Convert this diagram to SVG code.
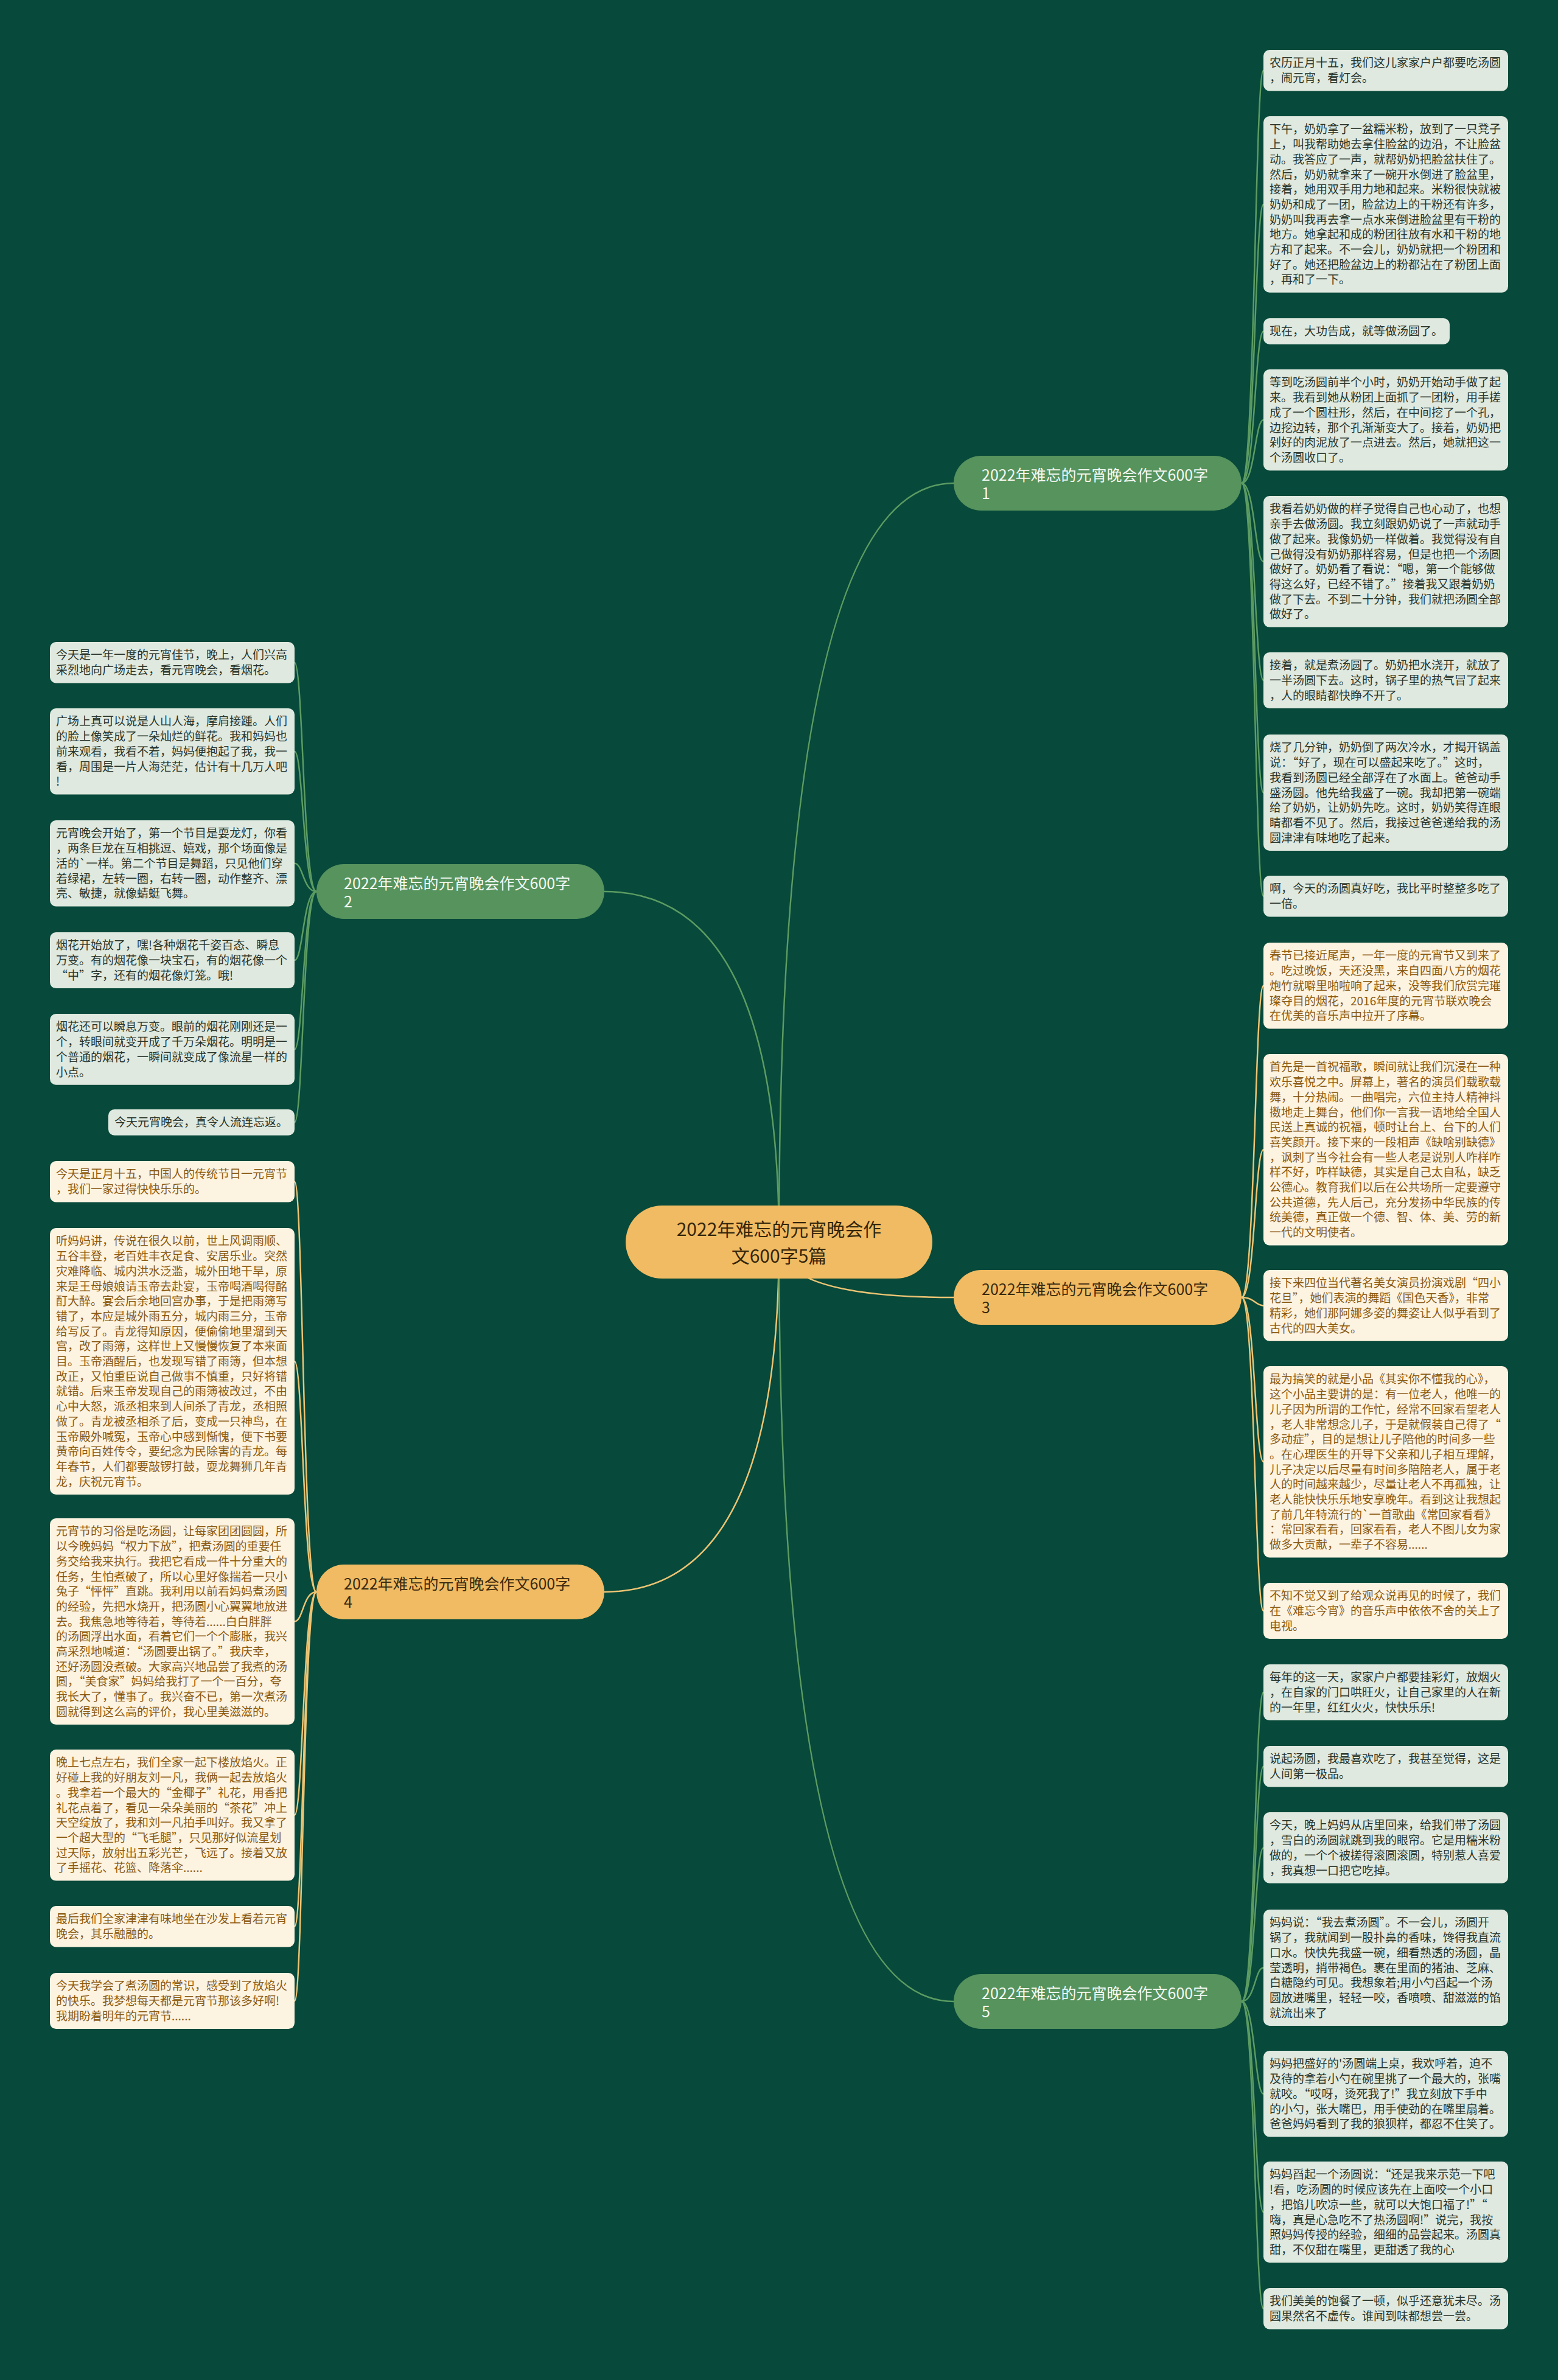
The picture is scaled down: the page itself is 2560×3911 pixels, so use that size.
<svg xmlns="http://www.w3.org/2000/svg" width="2560" height="3911" viewBox="0 0 2560 3911">
<style>
text{font-family:"Noto Sans CJK SC","Noto Sans",sans-serif}
.lt{font-size:19px}
.lg rect{fill:#dfe9df}
.lg text{fill:#2a352c}
.lo rect{fill:#fdf3e1}
.lo text{fill:#8a5a12}
.bg rect{fill:#56935d}
.bg text{fill:#f4f8f2;font-size:25px}
.bo rect{fill:#f0bb62}
.bo text{fill:#3a2a10;font-size:25px}
.cg{fill:none;stroke:#5c9c62;stroke-width:2.5}
.co{fill:none;stroke:#ecc474;stroke-width:2.5}
</style>
<rect width="2560" height="3911" fill="#07493a"/>
<g id="connectors">
<path class="cg" d="M1280,2041 Q1280,794 1567,794"/>
<path class="cg" d="M1280,2041 Q1280,1465 993,1465"/>
<path class="co" d="M1280,2041 Q1280,2132 1567,2132"/>
<path class="co" d="M1280,2041 Q1280,2616 993,2616"/>
<path class="cg" d="M1280,2041 Q1280,3289 1567,3289"/>
<path class="cg" d="M2040,794 C2062,794 2062,115.7 2076,115.7"/>
<path class="cg" d="M2040,794 C2062,794 2062,335.9 2076,335.9"/>
<path class="cg" d="M2040,794 C2062,794 2062,544.4 2076,544.4"/>
<path class="cg" d="M2040,794 C2062,794 2062,690.1 2076,690.1"/>
<path class="cg" d="M2040,794 C2062,794 2062,922.8 2076,922.8"/>
<path class="cg" d="M2040,794 C2062,794 2062,1118 2076,1118"/>
<path class="cg" d="M2040,794 C2062,794 2062,1302.5 2076,1302.5"/>
<path class="cg" d="M2040,794 C2062,794 2062,1472.7 2076,1472.7"/>
<path class="co" d="M2040,2132 C2062,2132 2062,1619.8 2076,1619.8"/>
<path class="co" d="M2040,2132 C2062,2132 2062,1889.2 2076,1889.2"/>
<path class="co" d="M2040,2132 C2062,2132 2062,2145.4 2076,2145.4"/>
<path class="co" d="M2040,2132 C2062,2132 2062,2402.2 2076,2402.2"/>
<path class="co" d="M2040,2132 C2062,2132 2062,2647 2076,2647"/>
<path class="cg" d="M2040,3289 C2062,3289 2062,2781 2076,2781"/>
<path class="cg" d="M2040,3289 C2062,3289 2062,2902.7 2076,2902.7"/>
<path class="cg" d="M2040,3289 C2062,3289 2062,3036.4 2076,3036.4"/>
<path class="cg" d="M2040,3289 C2062,3289 2062,3233.5 2076,3233.5"/>
<path class="cg" d="M2040,3289 C2062,3289 2062,3440.8 2076,3440.8"/>
<path class="cg" d="M2040,3289 C2062,3289 2062,3635.1 2076,3635.1"/>
<path class="cg" d="M2040,3289 C2062,3289 2062,3793.7 2076,3793.7"/>
<path class="cg" d="M520,1465 C498,1465 498,1088.7 484,1088.7"/>
<path class="cg" d="M520,1465 C498,1465 498,1234.8 484,1234.8"/>
<path class="cg" d="M520,1465 C498,1465 498,1418.8 484,1418.8"/>
<path class="cg" d="M520,1465 C498,1465 498,1578 484,1578"/>
<path class="cg" d="M520,1465 C498,1465 498,1724.4 484,1724.4"/>
<path class="cg" d="M520,1465 C498,1465 498,1844.4 484,1844.4"/>
<path class="co" d="M520,2616 C498,2616 498,1941.7 484,1941.7"/>
<path class="co" d="M520,2616 C498,2616 498,2237 484,2237"/>
<path class="co" d="M520,2616 C498,2616 498,2664.6 484,2664.6"/>
<path class="co" d="M520,2616 C498,2616 498,2982.8 484,2982.8"/>
<path class="co" d="M520,2616 C498,2616 498,3165.7 484,3165.7"/>
<path class="co" d="M520,2616 C498,2616 498,3288 484,3288"/>
</g>
<g id="center">
<rect x="1028" y="1981" width="504" height="120" rx="60" fill="#f0bb62"/>
<text x="1280" y="2031" text-anchor="middle" font-size="30" fill="#35260c">2022年难忘的元宵晚会作<tspan x="1280" dy="44">文600字5篇</tspan></text>
</g>
<g id="b1" class="bg"><rect x="1567" y="749" width="473" height="90" rx="45"/><text x="1613" y="790">2022年难忘的元宵晚会作文600字<tspan x="1613" dy="30">1</tspan></text></g>
<g id="b2" class="bg"><rect x="520" y="1420" width="473" height="90" rx="45"/><text x="565" y="1461">2022年难忘的元宵晚会作文600字<tspan x="565" dy="30">2</tspan></text></g>
<g id="b3" class="bo"><rect x="1567" y="2087" width="473" height="90" rx="45"/><text x="1613" y="2128">2022年难忘的元宵晚会作文600字<tspan x="1613" dy="30">3</tspan></text></g>
<g id="b4" class="bo"><rect x="520" y="2571" width="473" height="90" rx="45"/><text x="565" y="2612">2022年难忘的元宵晚会作文600字<tspan x="565" dy="30">4</tspan></text></g>
<g id="b5" class="bg"><rect x="1567" y="3244" width="473" height="90" rx="45"/><text x="1613" y="3285">2022年难忘的元宵晚会作文600字<tspan x="1613" dy="30">5</tspan></text></g>

<g id="r1-1" class="lg"><rect x="2076" y="82" width="402" height="67.4" rx="10"/><text class="lt" x="2086" y="110.4">农历正月十五，我们这儿家家户户都要吃汤圆<tspan x="2086" dy="24.7">，闹元宵，看灯会。</tspan></text></g>
<g id="r1-2" class="lg"><rect x="2076" y="191" width="402" height="289.7" rx="10"/><text class="lt" x="2086" y="219.4">下午，奶奶拿了一盆糯米粉，放到了一只凳子<tspan x="2086" dy="24.7">上，叫我帮助她去拿住脸盆的边沿，不让脸盆</tspan><tspan x="2086" dy="24.7">动。我答应了一声，就帮奶奶把脸盆扶住了。</tspan><tspan x="2086" dy="24.7">然后，奶奶就拿来了一碗开水倒进了脸盆里，</tspan><tspan x="2086" dy="24.7">接着，她用双手用力地和起来。米粉很快就被</tspan><tspan x="2086" dy="24.7">奶奶和成了一团，脸盆边上的干粉还有许多，</tspan><tspan x="2086" dy="24.7">奶奶叫我再去拿一点水来倒进脸盆里有干粉的</tspan><tspan x="2086" dy="24.7">地方。她拿起和成的粉团往放有水和干粉的地</tspan><tspan x="2086" dy="24.7">方和了起来。不一会儿，奶奶就把一个粉团和</tspan><tspan x="2086" dy="24.7">好了。她还把脸盆边上的粉都沾在了粉团上面</tspan><tspan x="2086" dy="24.7">，再和了一下。</tspan></text></g>
<g id="r1-3" class="lg"><rect x="2076" y="523" width="306" height="42.7" rx="10"/><text class="lt" x="2086" y="551.4">现在，大功告成，就等做汤圆了。</text></g>
<g id="r1-4" class="lg"><rect x="2076" y="607" width="402" height="166.2" rx="10"/><text class="lt" x="2086" y="635.4">等到吃汤圆前半个小时，奶奶开始动手做了起<tspan x="2086" dy="24.7">来。我看到她从粉团上面抓了一团粉，用手搓</tspan><tspan x="2086" dy="24.7">成了一个圆柱形，然后，在中间挖了一个孔，</tspan><tspan x="2086" dy="24.7">边挖边转，那个孔渐渐变大了。接着，奶奶把</tspan><tspan x="2086" dy="24.7">剁好的肉泥放了一点进去。然后，她就把这一</tspan><tspan x="2086" dy="24.7">个汤圆收口了。</tspan></text></g>
<g id="r1-5" class="lg"><rect x="2076" y="815" width="402" height="215.6" rx="10"/><text class="lt" x="2086" y="843.4">我看着奶奶做的样子觉得自己也心动了，也想<tspan x="2086" dy="24.7">亲手去做汤圆。我立刻跟奶奶说了一声就动手</tspan><tspan x="2086" dy="24.7">做了起来。我像奶奶一样做着。我觉得没有自</tspan><tspan x="2086" dy="24.7">己做得没有奶奶那样容易，但是也把一个汤圆</tspan><tspan x="2086" dy="24.7">做好了。奶奶看了看说：“嗯，第一个能够做</tspan><tspan x="2086" dy="24.7">得这么好，已经不错了。”接着我又跟着奶奶</tspan><tspan x="2086" dy="24.7">做了下去。不到二十分钟，我们就把汤圆全部</tspan><tspan x="2086" dy="24.7">做好了。</tspan></text></g>
<g id="r1-6" class="lg"><rect x="2076" y="1072" width="402" height="92.1" rx="10"/><text class="lt" x="2086" y="1100.4">接着，就是煮汤圆了。奶奶把水浇开，就放了<tspan x="2086" dy="24.7">一半汤圆下去。这时，锅子里的热气冒了起来</tspan><tspan x="2086" dy="24.7">，人的眼睛都快睁不开了。</tspan></text></g>
<g id="r1-7" class="lg"><rect x="2076" y="1207" width="402" height="190.9" rx="10"/><text class="lt" x="2086" y="1235.4">烧了几分钟，奶奶倒了两次冷水，才揭开锅盖<tspan x="2086" dy="24.7">说：“好了，现在可以盛起来吃了。”这时，</tspan><tspan x="2086" dy="24.7">我看到汤圆已经全部浮在了水面上。爸爸动手</tspan><tspan x="2086" dy="24.7">盛汤圆。他先给我盛了一碗。我却把第一碗端</tspan><tspan x="2086" dy="24.7">给了奶奶，让奶奶先吃。这时，奶奶笑得连眼</tspan><tspan x="2086" dy="24.7">睛都看不见了。然后，我接过爸爸递给我的汤</tspan><tspan x="2086" dy="24.7">圆津津有味地吃了起来。</tspan></text></g>
<g id="r1-8" class="lg"><rect x="2076" y="1439" width="402" height="67.4" rx="10"/><text class="lt" x="2086" y="1467.4">啊，今天的汤圆真好吃，我比平时整整多吃了<tspan x="2086" dy="24.7">一倍。</tspan></text></g>

<g id="r3-1" class="lo"><rect x="2076" y="1549" width="402" height="141.5" rx="10"/><text class="lt" x="2086" y="1577.4">春节已接近尾声，一年一度的元宵节又到来了<tspan x="2086" dy="24.7">。吃过晚饭，天还没黑，来自四面八方的烟花</tspan><tspan x="2086" dy="24.7">炮竹就噼里啪啦响了起来，没等我们欣赏完璀</tspan><tspan x="2086" dy="24.7">璨夺目的烟花，2016年度的元宵节联欢晚会</tspan><tspan x="2086" dy="24.7">在优美的音乐声中拉开了序幕。</tspan></text></g>
<g id="r3-2" class="lo"><rect x="2076" y="1732" width="402" height="314.4" rx="10"/><text class="lt" x="2086" y="1760.4">首先是一首祝福歌，瞬间就让我们沉浸在一种<tspan x="2086" dy="24.7">欢乐喜悦之中。屏幕上，著名的演员们载歌载</tspan><tspan x="2086" dy="24.7">舞，十分热闹。一曲唱完，六位主持人精神抖</tspan><tspan x="2086" dy="24.7">擞地走上舞台，他们你一言我一语地给全国人</tspan><tspan x="2086" dy="24.7">民送上真诚的祝福，顿时让台上、台下的人们</tspan><tspan x="2086" dy="24.7">喜笑颜开。接下来的一段相声《缺啥别缺德》</tspan><tspan x="2086" dy="24.7">，讽刺了当今社会有一些人老是说别人咋样咋</tspan><tspan x="2086" dy="24.7">样不好，咋样缺德，其实是自己太自私，缺乏</tspan><tspan x="2086" dy="24.7">公德心。教育我们以后在公共场所一定要遵守</tspan><tspan x="2086" dy="24.7">公共道德，先人后己，充分发扬中华民族的传</tspan><tspan x="2086" dy="24.7">统美德，真正做一个德、智、体、美、劳的新</tspan><tspan x="2086" dy="24.7">一代的文明使者。</tspan></text></g>
<g id="r3-3" class="lo"><rect x="2076" y="2087" width="402" height="116.8" rx="10"/><text class="lt" x="2086" y="2115.4">接下来四位当代著名美女演员扮演戏剧“四小<tspan x="2086" dy="24.7">花旦”，她们表演的舞蹈《国色天香》，非常</tspan><tspan x="2086" dy="24.7">精彩，她们那阿娜多姿的舞姿让人似乎看到了</tspan><tspan x="2086" dy="24.7">古代的四大美女。</tspan></text></g>
<g id="r3-4" class="lo"><rect x="2076" y="2245" width="402" height="314.4" rx="10"/><text class="lt" x="2086" y="2273.4">最为搞笑的就是小品《其实你不懂我的心》，<tspan x="2086" dy="24.7">这个小品主要讲的是：有一位老人，他唯一的</tspan><tspan x="2086" dy="24.7">儿子因为所谓的工作忙，经常不回家看望老人</tspan><tspan x="2086" dy="24.7">，老人非常想念儿子，于是就假装自己得了“</tspan><tspan x="2086" dy="24.7">多动症”，目的是想让儿子陪他的时间多一些</tspan><tspan x="2086" dy="24.7">。在心理医生的开导下父亲和儿子相互理解，</tspan><tspan x="2086" dy="24.7">儿子决定以后尽量有时间多陪陪老人，属于老</tspan><tspan x="2086" dy="24.7">人的时间越来越少，尽量让老人不再孤独，让</tspan><tspan x="2086" dy="24.7">老人能快快乐乐地安享晚年。看到这让我想起</tspan><tspan x="2086" dy="24.7">了前几年特流行的`一首歌曲《常回家看看》</tspan><tspan x="2086" dy="24.7">：常回家看看，回家看看，老人不图儿女为家</tspan><tspan x="2086" dy="24.7">做多大贡献，一辈子不容易......</tspan></text></g>
<g id="r3-5" class="lo"><rect x="2076" y="2601" width="402" height="92.1" rx="10"/><text class="lt" x="2086" y="2629.4">不知不觉又到了给观众说再见的时候了，我们<tspan x="2086" dy="24.7">在《难忘今宵》的音乐声中依依不舍的关上了</tspan><tspan x="2086" dy="24.7">电视。</tspan></text></g>

<g id="r5-1" class="lg"><rect x="2076" y="2735" width="402" height="92.1" rx="10"/><text class="lt" x="2086" y="2763.4">每年的这一天，家家户户都要挂彩灯，放烟火<tspan x="2086" dy="24.7">，在自家的门口哄旺火，让自己家里的人在新</tspan><tspan x="2086" dy="24.7">的一年里，红红火火，快快乐乐!</tspan></text></g>
<g id="r5-2" class="lg"><rect x="2076" y="2869" width="402" height="67.4" rx="10"/><text class="lt" x="2086" y="2897.4">说起汤圆，我最喜欢吃了，我甚至觉得，这是<tspan x="2086" dy="24.7">人间第一极品。</tspan></text></g>
<g id="r5-3" class="lg"><rect x="2076" y="2978" width="402" height="116.8" rx="10"/><text class="lt" x="2086" y="3006.4">今天，晚上妈妈从店里回来，给我们带了汤圆<tspan x="2086" dy="24.7">，雪白的汤圆就跳到我的眼帘。它是用糯米粉</tspan><tspan x="2086" dy="24.7">做的，一个个被搓得滚圆滚圆，特别惹人喜爱</tspan><tspan x="2086" dy="24.7">，我真想一口把它吃掉。</tspan></text></g>
<g id="r5-4" class="lg"><rect x="2076" y="3138" width="402" height="190.9" rx="10"/><text class="lt" x="2086" y="3166.4">妈妈说：“我去煮汤圆”。不一会儿，汤圆开<tspan x="2086" dy="24.7">锅了，我就闻到一股扑鼻的香味，馋得我直流</tspan><tspan x="2086" dy="24.7">口水。快快先我盛一碗，细看熟透的汤圆，晶</tspan><tspan x="2086" dy="24.7">莹透明，捎带褐色。裹在里面的猪油、芝麻、</tspan><tspan x="2086" dy="24.7">白糖隐约可见。我想象着;用小勺舀起一个汤</tspan><tspan x="2086" dy="24.7">圆放进嘴里，轻轻一咬，香喷喷、甜滋滋的馅</tspan><tspan x="2086" dy="24.7">就流出来了</tspan></text></g>
<g id="r5-5" class="lg"><rect x="2076" y="3370" width="402" height="141.5" rx="10"/><text class="lt" x="2086" y="3398.4">妈妈把盛好的'汤圆端上桌，我欢呼着，迫不<tspan x="2086" dy="24.7">及待的拿着小勺在碗里挑了一个最大的，张嘴</tspan><tspan x="2086" dy="24.7">就咬。“哎呀，烫死我了!”我立刻放下手中</tspan><tspan x="2086" dy="24.7">的小勺，张大嘴巴，用手使劲的在嘴里扇着。</tspan><tspan x="2086" dy="24.7">爸爸妈妈看到了我的狼狈样，都忍不住笑了。</tspan></text></g>
<g id="r5-6" class="lg"><rect x="2076" y="3552" width="402" height="166.2" rx="10"/><text class="lt" x="2086" y="3580.4">妈妈舀起一个汤圆说：“还是我来示范一下吧<tspan x="2086" dy="24.7">!看，吃汤圆的时候应该先在上面咬一个小口</tspan><tspan x="2086" dy="24.7">，把馅儿吹凉一些，就可以大饱口福了!”“</tspan><tspan x="2086" dy="24.7">嗨，真是心急吃不了热汤圆啊!”说完，我按</tspan><tspan x="2086" dy="24.7">照妈妈传授的经验，细细的品尝起来。汤圆真</tspan><tspan x="2086" dy="24.7">甜，不仅甜在嘴里，更甜透了我的心</tspan></text></g>
<g id="r5-7" class="lg"><rect x="2076" y="3760" width="402" height="67.4" rx="10"/><text class="lt" x="2086" y="3788.4">我们美美的饱餐了一顿，似乎还意犹未尽。汤<tspan x="2086" dy="24.7">圆果然名不虚传。谁闻到味都想尝一尝。</tspan></text></g>

<g id="l2-1" class="lg"><rect x="82" y="1055" width="402" height="67.4" rx="10"/><text class="lt" x="92" y="1083.4">今天是一年一度的元宵佳节，晚上，人们兴高<tspan x="92" dy="24.7">采烈地向广场走去，看元宵晚会，看烟花。</tspan></text></g>
<g id="l2-2" class="lg"><rect x="82" y="1164" width="402" height="141.5" rx="10"/><text class="lt" x="92" y="1192.4">广场上真可以说是人山人海，摩肩接踵。人们<tspan x="92" dy="24.7">的脸上像笑成了一朵灿烂的鲜花。我和妈妈也</tspan><tspan x="92" dy="24.7">前来观看，我看不着，妈妈便抱起了我，我一</tspan><tspan x="92" dy="24.7">看，周围是一片人海茫茫，估计有十几万人吧</tspan><tspan x="92" dy="24.7">!</tspan></text></g>
<g id="l2-3" class="lg"><rect x="82" y="1348" width="402" height="141.5" rx="10"/><text class="lt" x="92" y="1376.4">元宵晚会开始了，第一个节目是耍龙灯，你看<tspan x="92" dy="24.7">，两条巨龙在互相挑逗、嬉戏，那个场面像是</tspan><tspan x="92" dy="24.7">活的`一样。第二个节目是舞蹈，只见他们穿</tspan><tspan x="92" dy="24.7">着绿裙，左转一圈，右转一圈，动作整齐、漂</tspan><tspan x="92" dy="24.7">亮、敏捷，就像蜻蜓飞舞。</tspan></text></g>
<g id="l2-4" class="lg"><rect x="82" y="1532" width="402" height="92.1" rx="10"/><text class="lt" x="92" y="1560.4">烟花开始放了，嘿!各种烟花千姿百态、瞬息<tspan x="92" dy="24.7">万变。有的烟花像一块宝石，有的烟花像一个</tspan><tspan x="92" dy="24.7">“中”字，还有的烟花像灯笼。哦!</tspan></text></g>
<g id="l2-5" class="lg"><rect x="82" y="1666" width="402" height="116.8" rx="10"/><text class="lt" x="92" y="1694.4">烟花还可以瞬息万变。眼前的烟花刚刚还是一<tspan x="92" dy="24.7">个，转眼间就变开成了千万朵烟花。明明是一</tspan><tspan x="92" dy="24.7">个普通的烟花，一瞬间就变成了像流星一样的</tspan><tspan x="92" dy="24.7">小点。</tspan></text></g>
<g id="l2-6" class="lg"><rect x="178" y="1823" width="306" height="42.7" rx="10"/><text class="lt" x="188" y="1851.4">今天元宵晚会，真令人流连忘返。</text></g>

<g id="l4-1" class="lo"><rect x="82" y="1908" width="402" height="67.4" rx="10"/><text class="lt" x="92" y="1936.4">今天是正月十五，中国人的传统节日一元宵节<tspan x="92" dy="24.7">，我们一家过得快快乐乐的。</tspan></text></g>
<g id="l4-2" class="lo"><rect x="82" y="2018" width="402" height="437.9" rx="10"/><text class="lt" x="92" y="2046.4">听妈妈讲，传说在很久以前，世上风调雨顺、<tspan x="92" dy="24.7">五谷丰登，老百姓丰衣足食、安居乐业。突然</tspan><tspan x="92" dy="24.7">灾难降临、城内洪水泛滥，城外田地干旱，原</tspan><tspan x="92" dy="24.7">来是王母娘娘请玉帝去赴宴，玉帝喝酒喝得酩</tspan><tspan x="92" dy="24.7">酊大醉。宴会后余地回宫办事，于是把雨簿写</tspan><tspan x="92" dy="24.7">错了，本应是城外雨五分，城内雨三分，玉帝</tspan><tspan x="92" dy="24.7">给写反了。青龙得知原因，便偷偷地里溜到天</tspan><tspan x="92" dy="24.7">宫，改了雨簿，这样世上又慢慢恢复了本来面</tspan><tspan x="92" dy="24.7">目。玉帝酒醒后，也发现写错了雨簿，但本想</tspan><tspan x="92" dy="24.7">改正，又怕重臣说自己做事不慎重，只好将错</tspan><tspan x="92" dy="24.7">就错。后来玉帝发现自己的雨簿被改过，不由</tspan><tspan x="92" dy="24.7">心中大怒，派丞相来到人间杀了青龙，丞相照</tspan><tspan x="92" dy="24.7">做了。青龙被丞相杀了后，变成一只神鸟，在</tspan><tspan x="92" dy="24.7">玉帝殿外喊冤，玉帝心中感到惭愧，便下书要</tspan><tspan x="92" dy="24.7">黄帝向百姓传令，要纪念为民除害的青龙。每</tspan><tspan x="92" dy="24.7">年春节，人们都要敲锣打鼓，耍龙舞狮几年青</tspan><tspan x="92" dy="24.7">龙，庆祝元宵节。</tspan></text></g>
<g id="l4-3" class="lo"><rect x="82" y="2495" width="402" height="339.1" rx="10"/><text class="lt" x="92" y="2523.4">元宵节的习俗是吃汤圆，让每家团团圆圆，所<tspan x="92" dy="24.7">以今晚妈妈“权力下放”，把煮汤圆的重要任</tspan><tspan x="92" dy="24.7">务交给我来执行。我把它看成一件十分重大的</tspan><tspan x="92" dy="24.7">任务，生怕煮破了，所以心里好像揣着一只小</tspan><tspan x="92" dy="24.7">兔子“怦怦”直跳。我利用以前看妈妈煮汤圆</tspan><tspan x="92" dy="24.7">的经验，先把水烧开，把汤圆小心翼翼地放进</tspan><tspan x="92" dy="24.7">去。我焦急地等待着，等待着......白白胖胖</tspan><tspan x="92" dy="24.7">的汤圆浮出水面，看着它们一个个膨胀，我兴</tspan><tspan x="92" dy="24.7">高采烈地喊道：“汤圆要出锅了。”我庆幸，</tspan><tspan x="92" dy="24.7">还好汤圆没煮破。大家高兴地品尝了我煮的汤</tspan><tspan x="92" dy="24.7">圆，“美食家”妈妈给我打了一个一百分，夸</tspan><tspan x="92" dy="24.7">我长大了，懂事了。我兴奋不已，第一次煮汤</tspan><tspan x="92" dy="24.7">圆就得到这么高的评价，我心里美滋滋的。</tspan></text></g>
<g id="l4-4" class="lo"><rect x="82" y="2875" width="402" height="215.6" rx="10"/><text class="lt" x="92" y="2903.4">晚上七点左右，我们全家一起下楼放焰火。正<tspan x="92" dy="24.7">好碰上我的好朋友刘一凡，我俩一起去放焰火</tspan><tspan x="92" dy="24.7">。我拿着一个最大的“金椰子”礼花，用香把</tspan><tspan x="92" dy="24.7">礼花点着了，看见一朵朵美丽的“茶花”冲上</tspan><tspan x="92" dy="24.7">天空绽放了，我和刘一凡拍手叫好。我又拿了</tspan><tspan x="92" dy="24.7">一个超大型的“飞毛腿”，只见那好似流星划</tspan><tspan x="92" dy="24.7">过天际，放射出五彩光芒，飞远了。接着又放</tspan><tspan x="92" dy="24.7">了手摇花、花篮、降落伞......</tspan></text></g>
<g id="l4-5" class="lo"><rect x="82" y="3132" width="402" height="67.4" rx="10"/><text class="lt" x="92" y="3160.4">最后我们全家津津有味地坐在沙发上看着元宵<tspan x="92" dy="24.7">晚会，其乐融融的。</tspan></text></g>
<g id="l4-6" class="lo"><rect x="82" y="3242" width="402" height="92.1" rx="10"/><text class="lt" x="92" y="3270.4">今天我学会了煮汤圆的常识，感受到了放焰火<tspan x="92" dy="24.7">的快乐。我梦想每天都是元宵节那该多好啊!</tspan><tspan x="92" dy="24.7">我期盼着明年的元宵节......</tspan></text></g>
</svg>
